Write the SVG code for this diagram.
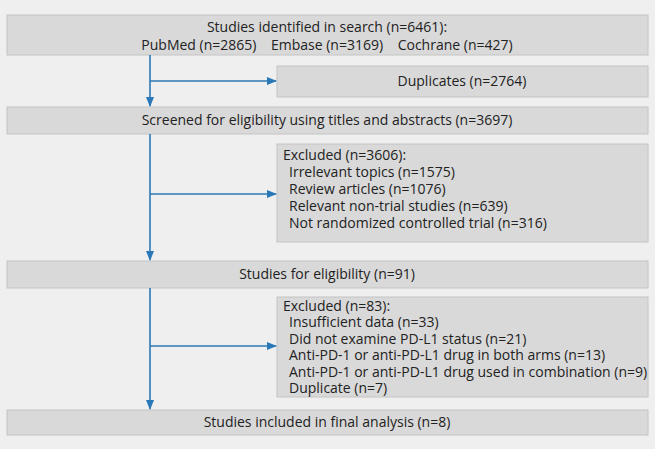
<svg xmlns="http://www.w3.org/2000/svg" width="655" height="449" viewBox="0 0 655 449">
<style>
.b{fill:#d9d9d9;stroke:#c4c4c4;stroke-width:1}
text{font-family:"Open Sans","Noto Sans",sans-serif;font-size:14px;fill:#222}
.c{text-anchor:middle}
.l{stroke:#2a78b7;stroke-width:1.6;fill:none}
</style>
<defs><marker id="a" markerWidth="10" markerHeight="8" refX="9" refY="4" orient="auto" markerUnits="userSpaceOnUse"><path d="M0,0L10,4L0,8z" fill="#2a78b7"/></marker></defs>
<rect width="655" height="449" fill="#efefef"/>
<g id="n1"><rect class="b" x="7" y="15" width="641" height="40"/><text class="c" x="327" y="32">Studies identified in search (n=6461):</text><text class="c" x="327" y="50" xml:space="preserve">PubMed (n=2865)    Embase (n=3169)    Cochrane (n=427)</text></g>
<g id="n2"><rect class="b" x="277" y="66" width="371" height="31"/><text class="c" x="462" y="86">Duplicates (n=2764)</text></g>
<g id="n3"><rect class="b" x="7" y="107" width="641" height="27"/><text class="c" x="327" y="125">Screened for eligibility using titles and abstracts (n=3697)</text></g>
<g id="n4"><rect class="b" x="277" y="144" width="371" height="98"/><text x="283" y="160">Excluded (n=3606):</text><text x="289" y="177">Irrelevant topics (n=1575)</text><text x="289" y="194">Review articles (n=1076)</text><text x="289" y="211">Relevant non-trial studies (n=639)</text><text x="289" y="228">Not randomized controlled trial (n=316)</text></g>
<g id="n5"><rect class="b" x="7" y="261" width="641" height="27"/><text class="c" x="327" y="279">Studies for eligibility (n=91)</text></g>
<g id="n6"><rect class="b" x="277" y="297" width="371" height="100"/><text x="283" y="311">Excluded (n=83):</text><text x="289" y="327">Insufficient data (n=33)</text><text x="289" y="344">Did not examine PD-L1 status (n=21)</text><text x="289" y="360">Anti-PD-1 or anti-PD-L1 drug in both arms (n=13)</text><text x="289" y="377">Anti-PD-1 or anti-PD-L1 drug used in combination (n=9)</text><text x="289" y="393">Duplicate (n=7)</text></g>
<g id="n7"><rect class="b" x="7" y="410" width="641" height="25"/><text class="c" x="327" y="427">Studies included in final analysis (n=8)</text></g>
<g id="connectors">
<path class="l" d="M150,55V106" marker-end="url(#a)"/><path class="l" d="M150,81H276" marker-end="url(#a)"/>
<path class="l" d="M150,134V260" marker-end="url(#a)"/><path class="l" d="M150,194H276" marker-end="url(#a)"/>
<path class="l" d="M150,288V409" marker-end="url(#a)"/><path class="l" d="M150,346H276" marker-end="url(#a)"/>
</g>
</svg>
